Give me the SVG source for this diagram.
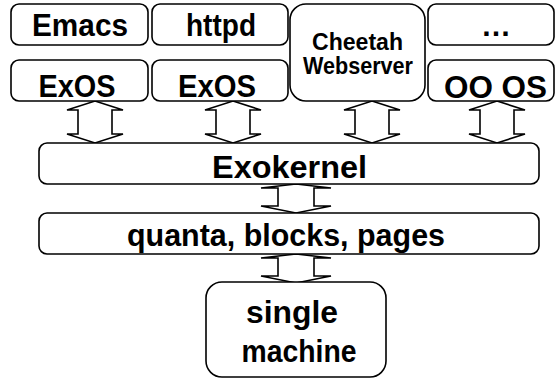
<svg xmlns="http://www.w3.org/2000/svg" width="556" height="379" viewBox="0 0 556 379">
  <style>
    .box { fill: #fff; stroke: #000; stroke-width: 1.6; }
    .lbl { font-family: "Liberation Sans", Arial, sans-serif; font-weight: bold; fill: #000; text-anchor: middle; }
    .arr { fill: #fff; stroke: #000; stroke-width: 1.6; stroke-linejoin: miter; }
  </style>
  <defs>
    <!-- tall two-headed outline arrow between the OS row and the kernel -->
    <path id="bigArrow" d="M0,0 L28,9 L17,9 L17,33 L28,33 L0,42 L-28,33 L-17,33 L-17,9 L-28,9 Z"/>
    <!-- short wide two-headed outline arrow between the lower layers -->
    <path id="smallArrow" d="M0,0 L35,4 L18,4 L18,22 L35,22 L0,29 L-35,22 L-18,22 L-18,4 L-35,4 Z"/>
  </defs>

  <rect width="556" height="379" fill="#fff"/>

  <g id="connectors" class="arr">
    <use href="#bigArrow" x="95" y="101"/>
    <use href="#bigArrow" x="233" y="101"/>
    <use href="#bigArrow" x="372" y="101"/>
    <use href="#bigArrow" x="497" y="101"/>
    <use href="#smallArrow" x="296" y="184"/>
    <use href="#smallArrow" x="296" y="254"/>
  </g>

  <g id="emacs">
    <rect class="box" x="11" y="4" width="137" height="41" rx="8"/>
    <text class="lbl" x="80" y="36" font-size="31" textLength="96" lengthAdjust="spacingAndGlyphs">Emacs</text>
  </g>
  <g id="httpd">
    <rect class="box" x="152" y="4" width="136" height="41" rx="8"/>
    <text class="lbl" x="221" y="36" font-size="31" textLength="70" lengthAdjust="spacingAndGlyphs">httpd</text>
  </g>
  <g id="cheetah">
    <rect class="box" x="290" y="4" width="135" height="97" rx="16"/>
    <text class="lbl" x="357.5" y="50" font-size="23" textLength="91" lengthAdjust="spacingAndGlyphs">Cheetah</text>
    <text class="lbl" x="358" y="74" font-size="23" textLength="110" lengthAdjust="spacingAndGlyphs">Webserver</text>
  </g>
  <g id="more">
    <rect class="box" x="428" y="4" width="126" height="41" rx="8"/>
    <text class="lbl" x="496" y="36" font-size="30">…</text>
  </g>
  <g id="exos1">
    <rect class="box" x="11" y="60" width="137" height="41" rx="8"/>
    <text class="lbl" x="77" y="97" font-size="31" textLength="77" lengthAdjust="spacingAndGlyphs">ExOS</text>
  </g>
  <g id="exos2">
    <rect class="box" x="152" y="60" width="136" height="41" rx="8"/>
    <text class="lbl" x="217" y="97" font-size="31" textLength="78" lengthAdjust="spacingAndGlyphs">ExOS</text>
  </g>
  <g id="oo-os">
    <rect class="box" x="428" y="60" width="126" height="41" rx="8"/>
    <text class="lbl" x="495.5" y="98" font-size="31" textLength="103" lengthAdjust="spacingAndGlyphs">OO OS</text>
  </g>
  <g id="exokernel">
    <rect class="box" x="39" y="143" width="500" height="41" rx="8"/>
    <text class="lbl" x="289.5" y="178" font-size="31" textLength="155" lengthAdjust="spacingAndGlyphs">Exokernel</text>
  </g>
  <g id="resources">
    <rect class="box" x="39" y="213" width="500" height="41" rx="8"/>
    <text class="lbl" x="286" y="246" font-size="31" textLength="318" lengthAdjust="spacingAndGlyphs">quanta, blocks, pages</text>
  </g>
  <g id="machine">
    <rect class="box" x="206" y="282" width="180" height="95" rx="16"/>
    <text class="lbl" x="292" y="323" font-size="31" textLength="92" lengthAdjust="spacingAndGlyphs">single</text>
    <text class="lbl" x="299" y="362" font-size="31" textLength="115" lengthAdjust="spacingAndGlyphs">machine</text>
  </g>
</svg>
